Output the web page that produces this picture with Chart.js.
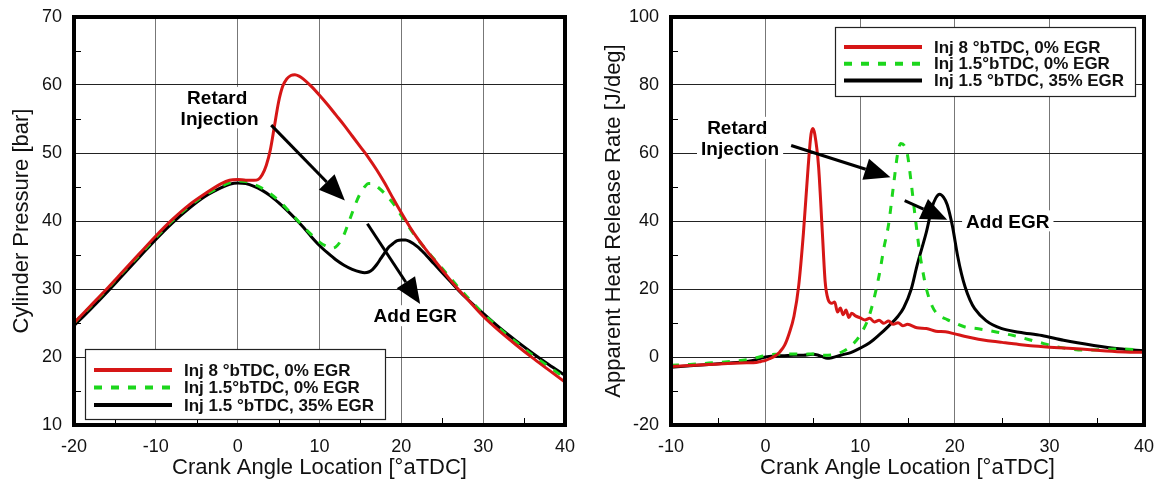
<!DOCTYPE html>
<html>
<head>
<meta charset="utf-8">
<title>Cylinder pressure and heat release</title>
<script src="https://cdn.jsdelivr.net/npm/chart.js@4.4.1/dist/chart.umd.min.js"></script>
<style>
  body { margin: 0; background: #fff; }
  .panel { position: absolute; top: 0; height: 481px; }
</style>
</head>
<body>
<div class="panel" style="left:0;width:580px"><canvas id="pressureChart"></canvas></div>
<div class="panel" style="left:580px;width:585px"><canvas id="hrrChart"></canvas></div>
<script>
// Series labels
const seriesLabels = ['Inj 8 °bTDC, 0% EGR', 'Inj 1.5°bTDC, 0% EGR', 'Inj 1.5 °bTDC, 35% EGR'];

// Cylinder pressure [bar] vs crank angle [°aTDC]
const cpAngleInj8 = [-20, -18, -16, -14, -12, -10, -8, -6, -4, -2, -1, 0, 1, 2, 2.5, 3, 3.5, 4, 4.5, 5, 5.5, 6, 6.5, 7, 7.5, 8, 9, 10, 11, 12, 13, 14, 15, 16, 17, 18, 19, 20, 21, 22, 23, 24, 25, 26, 27, 28, 30, 32, 34, 36, 38, 40];
const cpInj8 = [25.0, 27.5, 30.0, 32.6, 35.2, 37.8, 40.2, 42.3, 44.0, 45.5, 46.0, 46.1, 46.0, 46.0, 46.1, 46.8, 48.2, 50.5, 54.0, 57.5, 59.8, 60.9, 61.4, 61.5, 61.3, 60.9, 59.8, 58.5, 57.1, 55.6, 54.1, 52.5, 50.9, 49.3, 47.5, 45.5, 43.3, 41.2, 39.2, 37.4, 35.8, 34.3, 32.8, 31.3, 29.9, 28.6, 26.0, 23.8, 21.8, 19.9, 18.1, 16.3];

const cpAngleInj15 = [-20, -18, -16, -14, -12, -10, -8, -6, -4, -2, -1, 0, 1, 2, 3, 4, 5, 6, 7, 8, 9, 10, 11, 11.5, 12, 12.5, 13, 13.5, 14, 14.5, 15, 15.5, 16, 16.5, 17, 18, 19, 20, 21, 22, 23, 24, 25, 26, 27, 28, 30, 32, 34, 36, 38, 40];
const cpInj15 = [25.0, 27.4, 29.9, 32.5, 35.0, 37.6, 40.0, 42.1, 43.8, 45.1, 45.6, 45.9, 45.8, 45.4, 44.8, 44.0, 43.0, 41.8, 40.5, 39.2, 38.0, 36.9, 36.2, 36.0, 36.2, 36.9, 38.0, 39.6, 41.2, 42.8, 44.1, 45.0, 45.5, 45.5, 45.1, 44.0, 42.6, 40.8, 39.0, 37.3, 35.8, 34.4, 33.0, 31.6, 30.2, 28.9, 26.4, 24.2, 22.2, 20.3, 18.6, 16.9];

const cpAngleEgr = [-20, -18, -16, -14, -12, -10, -8, -6, -4, -2, -1, 0, 1, 2, 3, 4, 5, 6, 7, 8, 9, 10, 11, 12, 13, 14, 15, 15.5, 16, 16.5, 17, 17.5, 18, 18.5, 19, 19.5, 20, 20.5, 21, 22, 23, 24, 25, 26, 27, 28, 30, 32, 34, 36, 38, 40];
const cpEgr = [24.6, 27.0, 29.5, 32.1, 34.7, 37.3, 39.7, 41.8, 43.6, 44.9, 45.4, 45.6, 45.5, 45.1, 44.5, 43.7, 42.7, 41.6, 40.4, 39.1, 37.7, 36.4, 35.3, 34.3, 33.5, 32.9, 32.5, 32.4, 32.5, 32.9, 33.6, 34.5, 35.4, 36.2, 36.7, 37.1, 37.2, 37.2, 37.0, 36.2, 35.0, 33.7, 32.4, 31.1, 29.8, 28.6, 26.4, 24.3, 22.4, 20.6, 18.9, 17.3];

// Apparent heat release rate [J/deg] vs crank angle [°aTDC]
const hrAngleInj8 = [-10, -8, -6, -4, -2, -1, -0.5, 0, 0.5, 1, 1.5, 2, 2.5, 3, 3.5, 4, 4.5, 4.8, 5.0, 5.2, 5.6, 6.0, 6.3, 6.6, 7.0, 7.3, 7.6, 7.9, 8.2, 8.5, 8.8, 9.1, 9.5, 10, 10.5, 11, 11.5, 12, 12.5, 13, 13.5, 14, 14.5, 15, 16, 17, 18, 19, 20, 21, 22, 23, 24, 25, 26, 27, 28, 30, 32, 34, 36, 38, 40];
const hrInj8 = [-2.8, -2.5, -2.2, -1.9, -1.7, -1.6, -1.3, -1.0, -0.4, 0.3, 1.5, 3.4, 7.0, 12.0, 21.0, 36.5, 56.0, 65.5, 67.2, 65.5, 56.0, 36.5, 22.0, 17.0, 15.8, 16.2, 13.2, 14.4, 12.4, 13.8, 11.6, 12.9, 12.1, 11.5, 10.9, 11.4, 10.3, 10.8, 9.9, 10.6, 9.6, 10.1, 9.2, 9.6, 8.6, 8.4, 7.6, 7.4, 6.8, 6.1, 5.5, 5.0, 4.6, 4.3, 4.0, 3.6, 3.3, 2.9, 2.6, 2.2, 1.8, 1.5, 1.4];

const hrAngleInj15 = [-10, -8, -6, -4, -2, -1, 0, 1, 2, 3, 4, 5, 6, 7, 8, 9, 10, 11, 12, 12.5, 13, 13.5, 14, 14.3, 14.7, 15.0, 15.4, 15.8, 16.3, 16.7, 17.0, 17.6, 18.2, 19.2, 20, 21, 22.5, 24.5, 26.2, 28.8, 30.8, 33.9, 37.4, 40];
const hrInj15 = [-2.4, -2.2, -1.8, -1.4, -0.8, -0.2, 0.4, 0.8, 0.8, 0.9, 0.8, 0.9, 0.5, 0.6, 1.4, 3.2, 6.5, 12.5, 24.0, 32.0, 39.0, 50.0, 60.5, 62.8, 62.0, 59.5, 51.0, 41.5, 30.5, 24.0, 20.0, 15.0, 12.5, 11.0, 10.0, 8.9, 8.3, 7.3, 6.3, 4.4, 3.0, 2.0, 2.4, 2.0];

const hrAngleEgr = [-10, -8, -6, -4, -2, -1, 0, 1, 2, 3, 4, 5, 5.5, 6, 6.5, 7, 8, 9, 10, 11, 12, 13, 14, 14.6, 15.4, 16.0, 16.5, 17.0, 17.6, 18.0, 18.4, 18.8, 19.2, 19.75, 20.3, 20.7, 21.1, 21.6, 22.1, 23.3, 24.9, 26.8, 29.2, 31.5, 34.7, 37.4, 40];
const hrEgr = [-3.0, -2.6, -2.2, -1.8, -1.3, -0.8, 0.0, 0.3, 0.4, 0.5, 0.5, 0.8, 0.6, 0.1, -0.4, -0.2, 0.6, 1.3, 2.6, 4.2, 6.5, 9.1, 12.0, 14.5, 20.0, 26.8, 31.8, 36.8, 44.0, 46.8, 47.9, 47.0, 44.8, 38.5, 29.7, 24.5, 20.5, 16.8, 14.2, 10.7, 8.4, 7.3, 6.3, 4.9, 3.4, 2.4, 1.8];

const FONT = "'Liberation Sans', Arial, Helvetica, sans-serif";
const RED = 'rgb(214, 22, 22)';
const GREEN = 'rgb(28, 214, 28)';
const BLACK = '#000';

function toPoints(xs, ys) {
  return xs.map((x, i) => ({ x: x, y: ys[i] }));
}

function makeDatasets(series) {
  const colors = [RED, GREEN, BLACK];
  return series.map((pts, i) => ({
    label: seriesLabels[i],
    data: pts,
    borderColor: colors[i],
    borderWidth: 3,
    borderDash: i === 1 ? [8, 9] : [],
    pointRadius: 0,
    cubicInterpolationMode: 'monotone',
    fill: false
  }));
}

function drawArrow(ctx, x1, y1, x2, y2) {
  const ang = Math.atan2(y2 - y1, x2 - x1);
  const head = 26, half = 11;
  const bx = x2 - head * Math.cos(ang), by = y2 - head * Math.sin(ang);
  ctx.lineWidth = 3;
  ctx.beginPath();
  ctx.moveTo(x1, y1);
  ctx.lineTo(bx, by);
  ctx.stroke();
  ctx.beginPath();
  ctx.moveTo(x2, y2);
  ctx.lineTo(bx + half * Math.sin(ang), by - half * Math.cos(ang));
  ctx.lineTo(bx - half * Math.sin(ang), by + half * Math.cos(ang));
  ctx.closePath();
  ctx.fill();
}

// thick frame plus short minor ticks on the left and bottom edges
const frameTicks = {
  id: 'frameTicks',
  afterDatasetsDraw(chart, args, opts) {
    const { ctx, chartArea: a, scales: { x, y } } = chart;
    ctx.save();
    ctx.strokeStyle = '#000';
    ctx.lineWidth = 1;
    ctx.beginPath();
    opts.minorX.forEach(v => {
      const px = Math.round(x.getPixelForValue(v)) + 0.5;
      ctx.moveTo(px, a.bottom);
      ctx.lineTo(px, a.bottom - 7);
    });
    opts.minorY.forEach(v => {
      const py = Math.round(y.getPixelForValue(v)) + 0.5;
      ctx.moveTo(a.left, py);
      ctx.lineTo(a.left + 7, py);
    });
    ctx.stroke();
    ctx.lineWidth = 4;
    ctx.strokeRect(a.left, a.top, a.right - a.left, a.bottom - a.top);
    ctx.restore();
  }
};

// bold text labels with white backing and the big filled arrows
const callouts = {
  id: 'callouts',
  afterDatasetsDraw(chart, args, opts) {
    const { ctx, scales: { x, y } } = chart;
    ctx.save();
    ctx.font = 'bold 19px ' + FONT;
    ctx.textAlign = 'center';
    ctx.textBaseline = 'middle';
    opts.notes.forEach(n => {
      const px = x.getPixelForValue(n.x), py = y.getPixelForValue(n.y);
      const w = ctx.measureText(n.text).width;
      ctx.fillStyle = '#fff';
      ctx.fillRect(px - w / 2 - 4, py - 11, w + 8, 21);
      ctx.fillStyle = '#000';
      ctx.fillText(n.text, px, py + 1);
    });
    ctx.strokeStyle = '#000';
    ctx.fillStyle = '#000';
    opts.arrows.forEach(ar => {
      drawArrow(ctx,
        x.getPixelForValue(ar.from[0]), y.getPixelForValue(ar.from[1]),
        x.getPixelForValue(ar.to[0]), y.getPixelForValue(ar.to[1]));
    });
    ctx.restore();
  }
};

// boxed legend drawn inside the plot area
const boxLegend = {
  id: 'boxLegend',
  afterDraw(chart, args, opts) {
    const { ctx, chartArea: a } = chart;
    const x0 = opts.anchor === 'bottomLeft' ? a.left + opts.dx : a.right - opts.dx - opts.width;
    const y0 = opts.anchor === 'bottomLeft' ? a.bottom - opts.dy - opts.height : a.top + opts.dy;
    ctx.save();
    ctx.fillStyle = '#fff';
    ctx.fillRect(x0, y0, opts.width, opts.height);
    ctx.strokeStyle = '#222';
    ctx.lineWidth = 1.2;
    ctx.strokeRect(x0 + 0.5, y0 + 0.5, opts.width, opts.height);
    ctx.font = 'bold 17px ' + FONT;
    ctx.textBaseline = 'middle';
    ctx.textAlign = 'left';
    chart.data.datasets.forEach((ds, i) => {
      const ry = y0 + opts.firstRow + i * opts.rowGap;
      ctx.strokeStyle = ds.borderColor;
      ctx.lineWidth = 4;
      ctx.setLineDash(ds.borderDash);
      ctx.beginPath();
      ctx.moveTo(x0 + 9, ry);
      ctx.lineTo(x0 + 87, ry);
      ctx.stroke();
      ctx.setLineDash([]);
      ctx.fillStyle = '#111';
      ctx.fillText(ds.label, x0 + 99, ry + 1);
    });
    ctx.restore();
  }
};

// fixed axis sizes; drop the label overhang padding so the plot box sits where set
function axisX(min, max) {
  return {
    type: 'linear', min: min, max: max,
    afterFit: s => { s.height = 56; s.paddingLeft = 0; s.paddingRight = 0; },
    ticks: { stepSize: 10, padding: 11, color: '#111', maxRotation: 0, autoSkip: false, font: { family: FONT, size: 18 } },
    grid: { color: '#777', lineWidth: 1, drawTicks: false },
    border: { display: false },
    title: { display: true, text: 'Crank Angle Location [°aTDC]', color: '#111', padding: 0, font: { family: FONT, size: 22 } }
  };
}

function axisY(min, max, step, width, label, titlePad) {
  return {
    type: 'linear', min: min, max: max,
    afterFit: s => { s.width = width; s.paddingTop = 0; s.paddingBottom = 0; },
    ticks: { stepSize: step, padding: 12, color: '#111', autoSkip: false, font: { family: FONT, size: 18 } },
    grid: { color: '#222', lineWidth: 1, drawTicks: false },
    border: { display: false },
    title: { display: true, text: label, color: '#111', padding: { top: titlePad, bottom: 0 }, font: { family: FONT, size: 22 } }
  };
}

const pressureChart = new Chart(document.getElementById('pressureChart'), {
  type: 'line',
  data: {
    datasets: makeDatasets([
      toPoints(cpAngleInj8, cpInj8),
      toPoints(cpAngleInj15, cpInj15),
      toPoints(cpAngleEgr, cpEgr)
    ])
  },
  options: {
    responsive: true,
    maintainAspectRatio: false,
    animation: false,
    layout: { padding: { top: 17, right: 15, left: 0, bottom: 0 } },
    scales: {
      x: axisX(-20, 40),
      y: axisY(10, 70, 10, 74, 'Cylinder Pressure [bar]', 8.5)
    },
    plugins: {
      legend: { display: false },
      tooltip: { enabled: false },
      frameTicks: { minorX: [-15, -5, 5, 15, 25, 35], minorY: [15, 25, 35, 45, 55, 65] },
      callouts: {
        notes: [
          { text: 'Retard', x: -2.5, y: 58.1 },
          { text: 'Injection', x: -2.2, y: 55.1 },
          { text: 'Add EGR', x: 21.7, y: 26.0 }
        ],
        arrows: [
          { from: [4.1, 54.1], to: [13.1, 43.0] },
          { from: [15.85, 39.6], to: [22.3, 27.8] }
        ]
      },
      boxLegend: { anchor: 'bottomLeft', dx: 11, dy: 6, width: 300, height: 70, firstRow: 21, rowGap: 17.5 }
    }
  },
  plugins: [frameTicks, callouts, boxLegend]
});

const hrrChart = new Chart(document.getElementById('hrrChart'), {
  type: 'line',
  data: {
    datasets: makeDatasets([
      toPoints(hrAngleInj8, hrInj8),
      toPoints(hrAngleInj15, hrInj15),
      toPoints(hrAngleEgr, hrEgr)
    ])
  },
  options: {
    responsive: true,
    maintainAspectRatio: false,
    animation: false,
    layout: { padding: { top: 17, right: 21, left: 0, bottom: 0 } },
    scales: {
      x: axisX(-10, 40),
      y: axisY(-20, 100, 20, 91, 'Apparent Heat Release Rate [J/deg]', 20.5)
    },
    plugins: {
      legend: { display: false },
      tooltip: { enabled: false },
      frameTicks: { minorX: [-5, 5, 15, 25, 35], minorY: [-10, 10, 30, 50, 70, 90] },
      callouts: {
        notes: [
          { text: 'Retard', x: -3.0, y: 67.4 },
          { text: 'Injection', x: -2.7, y: 61.2 },
          { text: 'Add EGR', x: 25.6, y: 39.9 }
        ],
        arrows: [
          { from: [2.7, 62.2], to: [13.2, 52.9] },
          { from: [14.7, 46.0], to: [19.2, 40.4] }
        ]
      },
      boxLegend: { anchor: 'topRight', dx: 9, dy: 10, width: 300, height: 69, firstRow: 20, rowGap: 16.7 }
    }
  },
  plugins: [frameTicks, callouts, boxLegend]
});
</script>
</body>
</html>
